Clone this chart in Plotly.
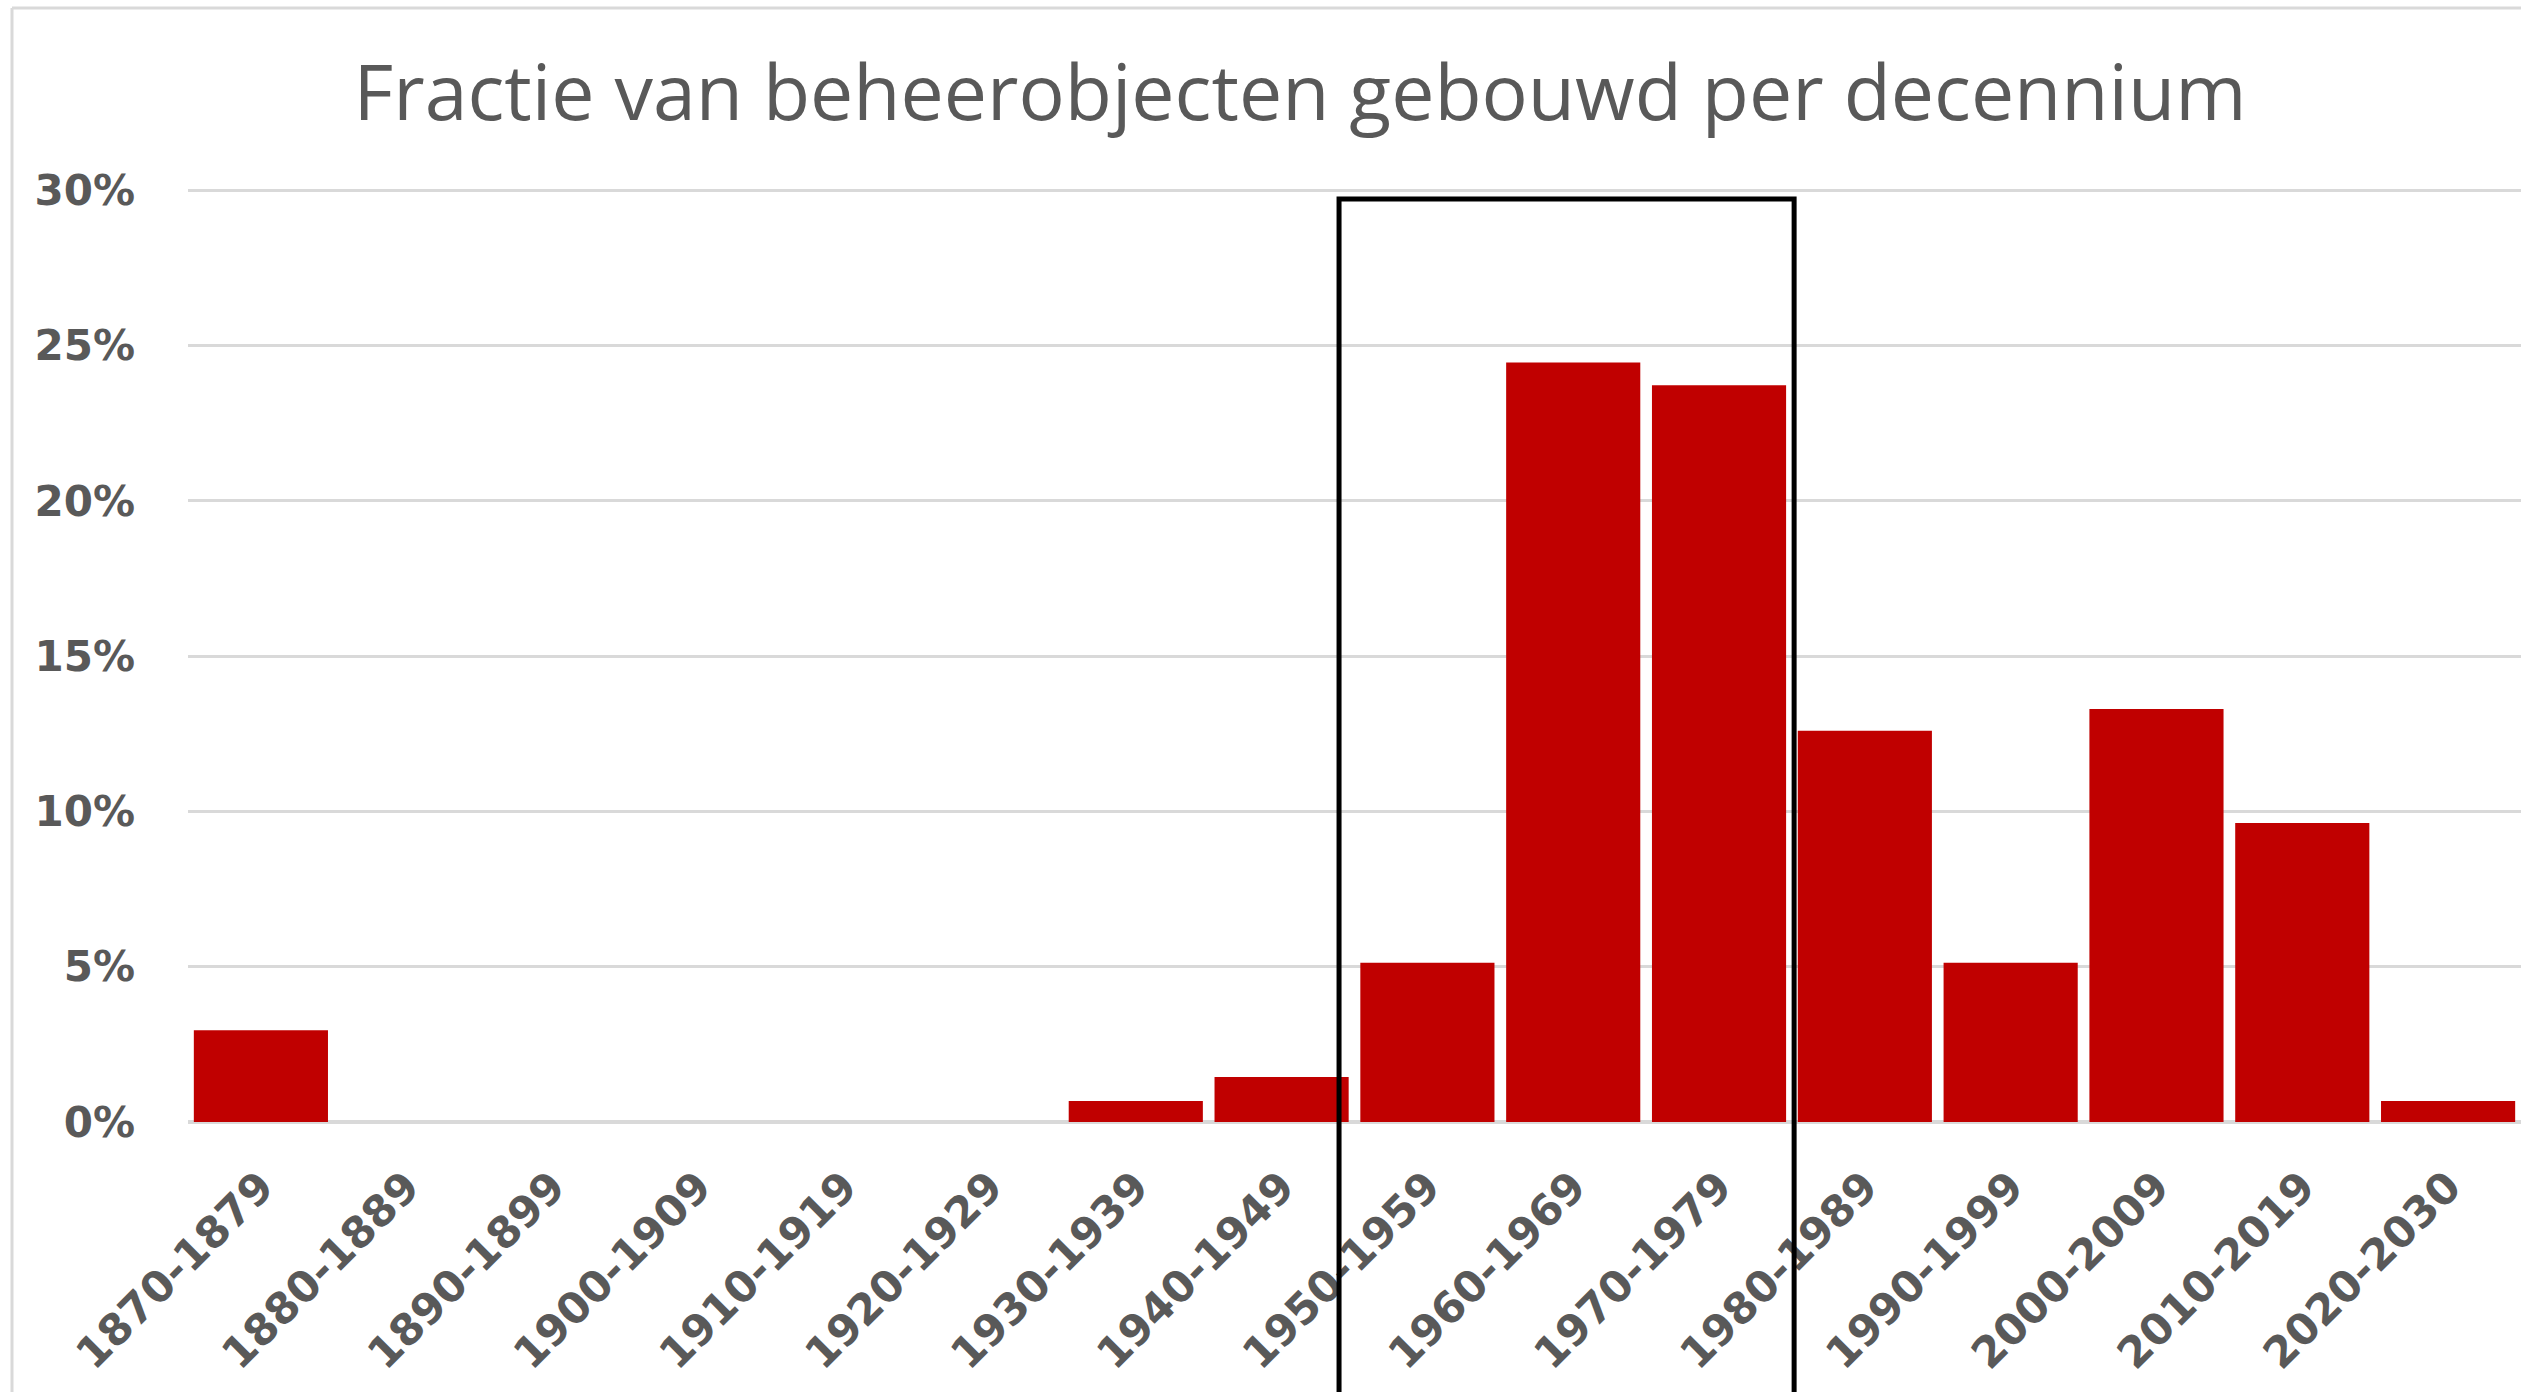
import plotly.graph_objects as go

categories = ["1870-1879", "1880-1889", "1890-1899", "1900-1909", "1910-1919",
              "1920-1929", "1930-1939", "1940-1949", "1950-1959", "1960-1969",
              "1970-1979", "1980-1989", "1990-1999", "2000-2009", "2010-2019",
              "2020-2030"]
fractions = [0.0295, 0.0, 0.0, 0.0, 0.0, 0.0, 0.0068, 0.0145, 0.0513, 0.2445,
             0.2372, 0.1260, 0.0513, 0.1330, 0.0963, 0.0068]

title_text = "Fractie van beheerobjecten gebouwd per decennium"
highlight_start = 7.394   # category-axis position of box left edge
highlight_end = 10.515    # category-axis position of box right edge

W, H = 2521, 1392
Y_MAX = 0.302
ML, MR, MB = 188, 0, 270
MT = int(round(H - MB - 932 * Y_MAX / 0.30))

fig = go.Figure(go.Bar(
    x=list(range(len(categories))), y=fractions,
    marker=dict(color="#C00000", line=dict(width=0)),
))

plot_w = W - ML - MR
plot_h = H - MT - MB

def px_to_paper_x(px):
    return (px - ML) / plot_w

def px_to_paper_y(py):
    return (H - MB - py) / plot_h

fig.update_layout(
    width=W, height=H,
    margin=dict(l=ML, r=MR, t=MT, b=MB, pad=0),
    paper_bgcolor="white", plot_bgcolor="white",
    bargap=0.08,
    showlegend=False,
    title=dict(text=title_text, x=1300 / W, xanchor="center", y=1 - 93 / H,
               yanchor="middle", yref="container",
               font=dict(family="Open Sans", size=77, color="#595959")),
    xaxis=dict(
        tickmode="array", tickvals=list(range(len(categories))), ticktext=categories,
        range=[-0.5, len(categories) - 0.5],
        tickangle=-45, showgrid=False, zeroline=False, showline=False,
        ticks="", ticklabelstandoff=30,
        tickfont=dict(family="DejaVu Sans", size=43, color="#595959", weight="bold"),
    ),
    yaxis=dict(
        range=[0, Y_MAX], dtick=0.05, tick0=0, tickformat=".0%",
        showgrid=True, gridcolor="#d9d9d9", gridwidth=3,
        zeroline=True, zerolinecolor="#d9d9d9", zerolinewidth=4,
        showline=False, ticks="", ticklabelstandoff=52,
        tickfont=dict(family="DejaVu Sans", size=42, color="#595959", weight="bold"),
    ),
    shapes=[
        # chart frame (outer border, partially cropped)
        dict(type="line", xref="paper", yref="paper",
             x0=px_to_paper_x(12), x1=px_to_paper_x(12),
             y0=px_to_paper_y(8), y1=px_to_paper_y(H + 20),
             line=dict(color="#d9d9d9", width=3), layer="below"),
        dict(type="line", xref="paper", yref="paper",
             x0=px_to_paper_x(12), x1=px_to_paper_x(W + 20),
             y0=px_to_paper_y(8), y1=px_to_paper_y(8),
             line=dict(color="#d9d9d9", width=3), layer="below"),
        # highlight box
        dict(type="rect", xref="x", yref="paper",
             x0=highlight_start, x1=highlight_end,
             y0=px_to_paper_y(H + 30), y1=px_to_paper_y(199),
             line=dict(color="black", width=5), fillcolor="rgba(0,0,0,0)",
             layer="above"),
    ],
)

fig.write_html("out.html", config={"displayModeBar": False},
               post_script="document.body.style.margin='0';document.body.style.padding='0';")
